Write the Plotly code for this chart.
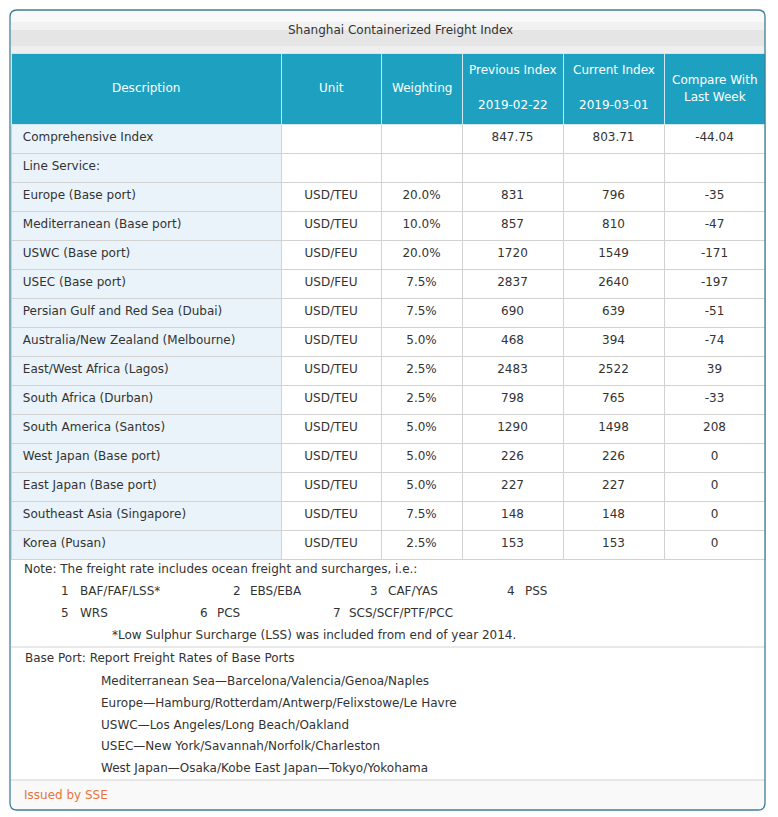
import plotly.graph_objects as go

W, H = 778, 817

# table data
descriptions = ["Comprehensive Index", "Line Service:", "Europe (Base port)",
                "Mediterranean (Base port)", "USWC (Base port)", "USEC (Base port)",
                "Persian Gulf and Red Sea (Dubai)", "Australia/New Zealand (Melbourne)",
                "East/West Africa (Lagos)", "South Africa (Durban)",
                "South America (Santos)", "West Japan (Base port)",
                "East Japan (Base port)", "Southeast Asia (Singapore)", "Korea (Pusan)"]
units = ["", "", "USD/TEU", "USD/TEU", "USD/FEU", "USD/FEU", "USD/TEU", "USD/TEU",
         "USD/TEU", "USD/TEU", "USD/TEU", "USD/TEU", "USD/TEU", "USD/TEU", "USD/TEU"]
weighting = [None, None, 20.0, 10.0, 20.0, 7.5, 7.5, 5.0, 2.5, 2.5, 5.0, 5.0, 5.0, 7.5, 2.5]
previous_index = [847.75, None, 831, 857, 1720, 2837, 690, 468, 2483, 798, 1290, 226, 227, 148, 153]
current_index = [803.71, None, 796, 810, 1549, 2640, 639, 394, 2522, 765, 1498, 226, 227, 148, 153]
compare_week = [-44.04, None, -35, -47, -171, -197, -51, -74, 39, -33, 208, 0, 0, 0, 0]

previous_date = "2019-02-22"
current_date = "2019-03-01"

surcharges = ["BAF/FAF/LSS*", "EBS/EBA", "CAF/YAS", "PSS", "WRS", "PCS", "SCS/SCF/PTF/PCC"]

base_ports = ["Mediterranean Sea\u2014Barcelona/Valencia/Genoa/Naples",
              "Europe\u2014Hamburg/Rotterdam/Antwerp/Felixstowe/Le Havre",
              "USWC\u2014Los Angeles/Long Beach/Oakland",
              "USEC\u2014New York/Savannah/Norfolk/Charleston",
              "West Japan\u2014Osaka/Kobe East Japan\u2014Tokyo/Yokohama"]

FONT = "DejaVu Sans, Verdana, sans-serif"
TEXT = "#333333"
TEAL = "#1ea1c1"
BORDER = "#3d7f96"

col_edges = [11, 281, 381, 462, 563, 664, 765]


def X(px):
    return px / W


def Y(py):
    return 1 - py / H


def fmt(v):
    if v is None:
        return ""
    return str(v)


def pct(v):
    return "" if v is None else "%.1f%%" % v


n = len(descriptions)
fig = go.Figure()

widths = [col_edges[i + 1] - col_edges[i] for i in range(6)]
fig.add_trace(go.Table(
    domain={'x': [X(11), X(765)], 'y': [Y(570), Y(53)]},
    columnwidth=widths,
    header={'values': [""] * 6,
            'fill_color': TEAL,
            'line': {'color': '#cfe9f1', 'width': 1},
            'height': 71},
    cells={'values': [[" " + d for d in descriptions], units,
                      [pct(v) for v in weighting],
                      [fmt(v) for v in previous_index],
                      [fmt(v) for v in current_index],
                      [fmt(v) for v in compare_week]],
           'fill_color': [['#eaf3f9'] * n] + [['white'] * n] * 5,
           'line': {'color': '#d2d2d2', 'width': 1},
           'align': ['left', 'center', 'center', 'center', 'center', 'center'],
           'height': 29,
           'font': {'family': FONT, 'size': 12, 'color': TEXT}}))

shapes = []
# title bar, rough gradient
bands = [(10, 22, '#f9f9f9'), (22, 30, '#f1f1f1'), (30, 46, '#e5e5e5'), (46, 53, '#eeeeee')]
for y0, y1, c in bands:
    shapes.append(dict(type='rect', xref='paper', yref='paper',
                       x0=X(11), x1=X(765), y0=Y(y1), y1=Y(y0),
                       fillcolor=c, line_width=0, layer='below'))
# footer band
shapes.append(dict(type='rect', xref='paper', yref='paper',
                   x0=X(11), x1=X(765), y0=Y(810), y1=Y(780),
                   fillcolor='#f9f9f9', line_width=0, layer='below'))
# separators
for yy in [647, 780]:
    shapes.append(dict(type='line', xref='paper', yref='paper',
                       x0=X(11), x1=X(765), y0=Y(yy), y1=Y(yy),
                       line={'color': '#d2d2d2', 'width': 1}))

# rounded outer frame
l, r, t, b, rad = 10, 765, 10, 810, 7
path = ("M {a},{t} L {b},{t} Q {r},{t} {r},{c} L {r},{d} Q {r},{bb} {b},{bb} "
        "L {a},{bb} Q {l},{bb} {l},{d} L {l},{c} Q {l},{t} {a},{t} Z").format(
    a=X(l + rad), b=X(r - rad), t=Y(t), r=X(r), c=Y(t + rad), d=Y(b - rad),
    bb=Y(b), l=X(l))
shapes.append(dict(type='path', xref='paper', yref='paper', path=path,
                   line={'color': BORDER, 'width': 1.3}, layer='above'))

ann = []


def txt(x, y, s, color=TEXT, anchor='left'):
    ann.append(dict(x=X(x), y=Y(y), xref='paper', yref='paper', text=s,
                    showarrow=False, xanchor=anchor, yanchor='middle',
                    font={'family': FONT, 'size': 12, 'color': color}))


txt(400, 30, "Shanghai Containerized Freight Index", anchor='center')

# header labels
centers = [(col_edges[i] + col_edges[i + 1]) / 2 for i in range(6)]
header_lines = [[("Description", 88)], [("Unit", 88)], [("Weighting", 88)],
                [("Previous Index", 70), (previous_date, 105)],
                [("Current Index", 70), (current_date, 105)],
                [("Compare With", 80), ("Last Week", 97)]]
for cx, lines in zip(centers, header_lines):
    for s, yy in lines:
        txt(cx, yy, s, color='white', anchor='center')

txt(22, 569, "Note: The freight rate includes ocean freight and surcharges, i.e.:")

num_x = [59, 231, 368, 505, 59, 198, 331]
lbl_x = [78, 248, 386, 523, 78, 215, 347]
row_y = [591, 591, 591, 591, 613, 613, 613]
for i, s in enumerate(surcharges):
    txt(num_x[i], row_y[i], str(i + 1))
    txt(lbl_x[i], row_y[i], s)
txt(110, 635, "*Low Sulphur Surcharge (LSS) was included from end of year 2014.")

txt(23, 658, "Base Port: Report Freight Rates of Base Ports")
for i, s in enumerate(base_ports):
    txt(99, 681 + i * 21.8, s)

txt(22, 795, "Issued by SSE", color='#e8743b')

fig.update_layout(width=W, height=H, margin=dict(l=0, r=0, t=0, b=0),
                  paper_bgcolor='white', plot_bgcolor='white',
                  shapes=shapes, annotations=ann, showlegend=False)

fig.write_html("out.html", config={'displayModeBar': False},
               post_script="document.body.style.margin='0';")
